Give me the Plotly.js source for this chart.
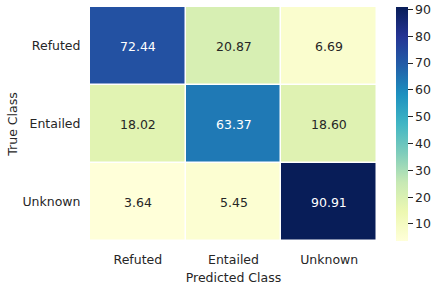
<!DOCTYPE html>
<html>
<head>
<meta charset="utf-8">
<script src="https://cdn.plot.ly/plotly-3.0.1.min.js"></script>
<style>html,body{margin:0;padding:0;background:#fff;}#chart{width:437px;height:286px;}</style>
</head>
<body>
<div id="chart"></div>
<script>
const predictedClasses = ["Refuted", "Entailed", "Unknown"];
const trueClasses = ["Refuted", "Entailed", "Unknown"];
const values = [
  [72.44, 20.87, 6.69],
  [18.02, 63.37, 18.60],
  [3.64, 5.45, 90.91]
];
const colorbarTicks = [10, 20, 30, 40, 50, 60, 70, 80, 90];

const ylgnbu = [
  [0.000, "#ffffd9"], [0.125, "#edf8b1"], [0.250, "#c7e9b4"],
  [0.375, "#7fcdbb"], [0.500, "#41b6c4"], [0.625, "#1d91c0"],
  [0.750, "#225ea8"], [0.875, "#253494"], [1.000, "#081d58"]
];

let zmin = Infinity, zmax = -Infinity;
values.forEach(r => r.forEach(v => { zmin = Math.min(zmin, v); zmax = Math.max(zmax, v); }));

const font = {family: "DejaVu Sans", size: 12.5, color: "#262626"};

const annotations = [];
values.forEach((row, i) => row.forEach((v, j) => {
  const frac = (v - zmin) / (zmax - zmin);
  annotations.push({
    x: predictedClasses[j], y: trueClasses[i], xref: "x", yref: "y",
    text: v.toFixed(2), showarrow: false,
    font: {family: "DejaVu Sans", size: 12.5, color: frac > 0.5 ? "#ffffff" : "#262626"}
  });
}));

Plotly.newPlot("chart", [{
  type: "heatmap",
  x: predictedClasses, y: trueClasses, z: values,
  colorscale: ylgnbu, zmin: zmin, zmax: zmax,
  xgap: 1.5, ygap: 1.5,
  hoverinfo: "none",
  colorbar: {
    x: 1.0625, xanchor: "left", y: 0.5, yanchor: "middle", len: 1,
    thickness: 12, outlinewidth: 0, xpad: 0, ypad: 0,
    tickvals: colorbarTicks, ticks: "outside", ticklen: 5, tickwidth: 1,
    tickcolor: "#262626", tickfont: font
  }
}], {
  width: 437, height: 286,
  margin: {l: 90, r: 59, t: 7, b: 45},
  paper_bgcolor: "#fff", plot_bgcolor: "#fff",
  font: font,
  xaxis: {
    showgrid: false, zeroline: false, showline: false,
    ticks: "outside", ticklen: 7, tickcolor: "rgba(0,0,0,0)",
    tickfont: font,
    title: {text: "Predicted Class", font: font, standoff: 7}
  },
  yaxis: {
    autorange: "reversed",
    showgrid: false, zeroline: false, showline: false,
    ticks: "outside", ticklen: 6, tickcolor: "rgba(0,0,0,0)",
    tickfont: font,
    title: {text: "True Class", font: font, standoff: 2}
  },
  annotations: annotations
}, {staticPlot: true, displayModeBar: false});
</script>
</body>
</html>
